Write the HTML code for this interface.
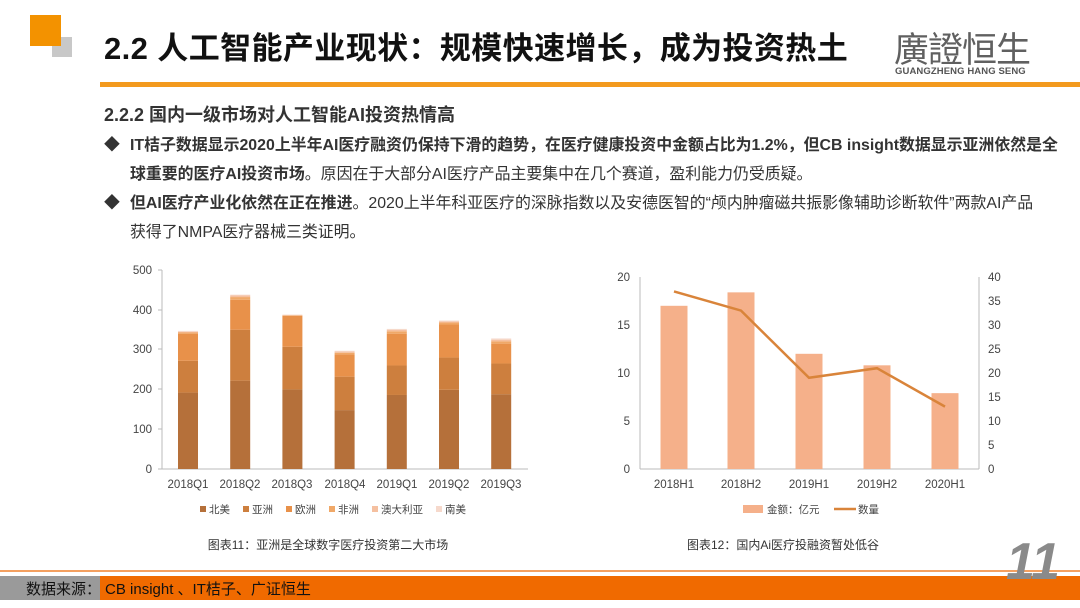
<!DOCTYPE html>
<html><head><meta charset="utf-8"><style>
body{margin:0;width:1080px;height:608px;overflow:hidden;background:#fff;font-family:"Liberation Sans","Noto Sans CJK SC",sans-serif;position:relative;color:#222}
.a{position:absolute;white-space:nowrap}
</style></head><body>
<div class="a" style="left:52px;top:37px;width:20px;height:20px;background:#c8c8c8"></div>
<div class="a" style="left:30px;top:15px;width:31px;height:31px;background:#f39200"></div>
<div class="a" style="left:104px;top:23px;font-size:31px;font-weight:bold;color:#111;letter-spacing:0.4px">2.2 人工智能产业现状：规模快速增长，成为投资热土</div>
<div class="a" style="left:894px;top:22px;font-size:35px;color:#606060;letter-spacing:-1px">廣證恒生</div>
<div class="a" style="left:895px;top:66px;font-size:9.5px;color:#555;font-weight:bold;letter-spacing:0.1px">GUANGZHENG HANG SENG</div>
<div class="a" style="left:100px;top:82px;width:980px;height:5px;background:#f39a1e"></div>
<div class="a" style="left:104px;top:101px;font-size:18px;font-weight:bold;color:#333">2.2.2 国内一级市场对人工智能AI投资热情高</div>
<div class="a" style="left:104px;top:131px;font-size:15.9px;line-height:29px;color:#333;width:975px">
<div style="position:relative;padding-left:26px"><span style="position:absolute;left:0">◆</span><b>IT桔子数据显示2020上半年AI医疗融资仍保持下滑的趋势，在医疗健康投资中金额占比为1.2%，但CB insight数据显示亚洲依然是全<br>球重要的医疗AI投资市场</b>。原因在于大部分AI医疗产品主要集中在几个赛道，盈利能力仍受质疑。</div>
<div style="position:relative;padding-left:26px"><span style="position:absolute;left:0">◆</span><b>但AI医疗产业化依然在正在推进</b>。2020上半年科亚医疗的深脉指数以及安德医智的“颅内肿瘤磁共振影像辅助诊断软件”两款AI产品<br>获得了NMPA医疗器械三类证明。</div>
</div>
<svg class="a" style="left:0;top:0" width="1080" height="608" font-family="Liberation Sans, Noto Sans CJK SC, sans-serif" font-size="11.5" fill="#444">
<g stroke="#bbb" stroke-width="1">
<line x1="162" y1="270" x2="162" y2="469"/><line x1="162" y1="469" x2="528" y2="469"/>
<line x1="158" y1="270" x2="162" y2="270"/><line x1="158" y1="310" x2="162" y2="310"/><line x1="158" y1="349" x2="162" y2="349"/><line x1="158" y1="389" x2="162" y2="389"/><line x1="158" y1="429" x2="162" y2="429"/><line x1="158" y1="469" x2="162" y2="469"/>
<line x1="640" y1="277" x2="640" y2="469"/><line x1="979" y1="277" x2="979" y2="469"/><line x1="640" y1="469" x2="979" y2="469"/>
</g>
<g text-anchor="end"><text x="152" y="274">500</text><text x="152" y="314">400</text><text x="152" y="353">300</text><text x="152" y="393">200</text><text x="152" y="433">100</text><text x="152" y="473">0</text>
<text x="630" y="281">20</text><text x="630" y="329">15</text><text x="630" y="377">10</text><text x="630" y="425">5</text><text x="630" y="473">0</text></g>
<g text-anchor="start"><text x="988" y="281">40</text><text x="988" y="305">35</text><text x="988" y="329">30</text><text x="988" y="353">25</text><text x="988" y="377">20</text><text x="988" y="401">15</text><text x="988" y="425">10</text><text x="988" y="449">5</text><text x="988" y="473">0</text></g>
<g id="bars"></g>
<g text-anchor="middle">
<text x="188" y="488">2018Q1</text><text x="240" y="488">2018Q2</text><text x="292" y="488">2018Q3</text><text x="345" y="488">2018Q4</text><text x="397" y="488">2019Q1</text><text x="449" y="488">2019Q2</text><text x="501" y="488">2019Q3</text>
<text x="674" y="488">2018H1</text><text x="741" y="488">2018H2</text><text x="809" y="488">2019H1</text><text x="877" y="488">2019H2</text><text x="945" y="488">2020H1</text>
</g>
<g font-size="10.5">
<rect x="200" y="506" width="6" height="6" fill="#b5703a"/><text x="209" y="513">北美</text>
<rect x="243" y="506" width="6" height="6" fill="#cd7f3e"/><text x="252" y="513">亚洲</text>
<rect x="286" y="506" width="6" height="6" fill="#e8914a"/><text x="295" y="513">欧洲</text>
<rect x="329" y="506" width="6" height="6" fill="#f0a868"/><text x="338" y="513">非洲</text>
<rect x="372" y="506" width="6" height="6" fill="#f5c0a0"/><text x="381" y="513">澳大利亚</text>
<rect x="436" y="506" width="6" height="6" fill="#f6d9cc"/><text x="445" y="513">南美</text>
<rect x="743" y="505" width="20" height="8" fill="#f5b08a"/><text x="767" y="513">金额：亿元</text>
<line x1="834" y1="509" x2="856" y2="509" stroke="#d9843a" stroke-width="2.5"/><text x="858" y="513">数量</text>
</g>
<g font-size="12" fill="#333" text-anchor="middle"><text x="328" y="549">图表11：亚洲是全球数字医疗投资第二大市场</text><text x="783" y="549">图表12：国内Ai医疗投融资暂处低谷</text></g>
</svg>
<div class="a" style="left:0;top:570px;width:1080px;height:2px;background:#f4a060"></div>
<div class="a" style="left:0;top:576px;width:100px;height:24px;background:#9a9a9a"></div>
<div class="a" style="left:100px;top:576px;width:980px;height:24px;background:#f06a00"></div>
<div class="a" style="left:26px;top:578px;font-size:15px;color:#111">数据来源：<span style="margin-left:4px">CB insight 、IT桔子、广证恒生</span></div>
<div class="a" style="left:1006px;top:532px;font-size:52px;font-weight:bold;font-style:italic;color:#8a8a8a">11</div>
<script>
var d=[[192,272,340,343,345,347],[222,350,425,432,436,438],[200,307,385,386,387,388],[148,232,288,292,295,297],[186,260,340,346,350,352],[199,280,363,368,371,373],[188,265,315,321,325,328]];
var c=["#b5703a","#cd7f3e","#e8914a","#f0a868","#f5c0a0","#f6d9cc"];
var s="",k=199/500;
d.forEach(function(r,i){var x=188+i*52.2-10,p=0;r.forEach(function(v,j){s+='<rect x="'+x+'" y="'+(469-v*k)+'" width="20" height="'+((v-p)*k)+'" fill="'+c[j]+'"/>';p=v;});});
var b=[17,18.4,12,10.8,7.9],l=[37,33,19,21,13],cx=[674,741,809,877,945],pts=[];
b.forEach(function(v,i){s+='<rect x="'+(cx[i]-13.5)+'" y="'+(469-v*9.6)+'" width="27" height="'+(v*9.6)+'" fill="#f5b08a"/>';pts.push(cx[i]+','+(469-l[i]*4.8));});
s+='<polyline points="'+pts.join(' ')+'" fill="none" stroke="#d9843a" stroke-width="2.5"/>';
document.getElementById('bars').innerHTML=s;
</script>
</body></html>
